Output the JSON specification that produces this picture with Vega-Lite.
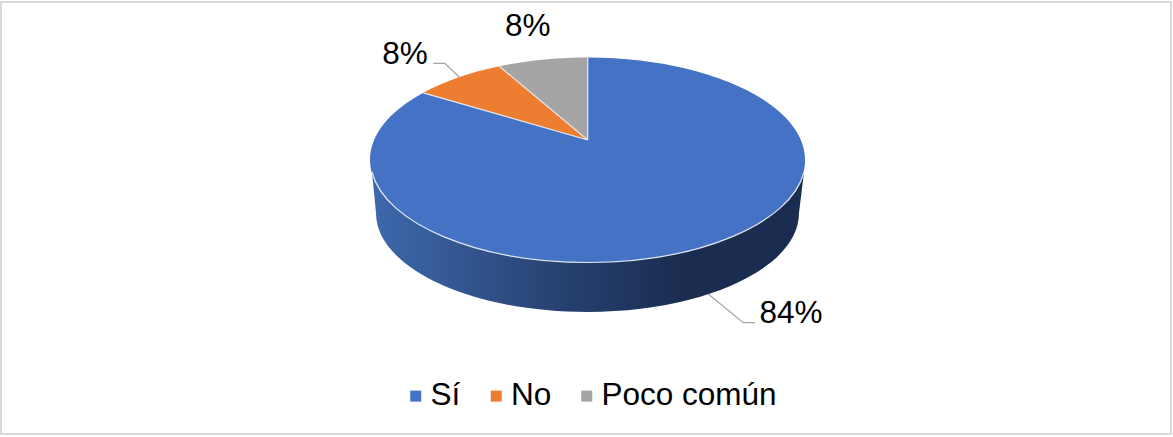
{
"$schema":"https://vega.github.io/schema/vega-lite/v6.json",
"width":1170,"height":432,
"autosize":{"type":"none"},
"padding":{"left":1,"top":2,"right":2,"bottom":3},
"background":"white",
"view":{"stroke":"#d9d9d9","strokeWidth":2,"fill":"white"},
"config":{"font":"Liberation Sans"},
"data":{"values":[
{"categoria":"Sí","valor":84,"etiqueta":"84%"},
{"categoria":"No","valor":8,"etiqueta":"8%"},
{"categoria":"Poco común","valor":8,"etiqueta":"8%"}
]},
"layer":[
{"transform":[{"filter":"datum.categoria==='Sí'"}],
 "mark":{"type":"point","size":4,"opacity":1,"filled":false,"stroke":"#a6a6a6","strokeWidth":1.3,"shape":"M121.3,75.3 L157.3,104.7 L169,104.7"}},
{"transform":[{"filter":"datum.categoria==='No'"}],
 "mark":{"type":"point","size":4,"opacity":1,"filled":false,"stroke":"#a6a6a6","strokeWidth":1.3,"shape":"M-152.7,-154.7 L-141,-154.7 L-126.7,-140.7"}},
{"transform":[{"filter":"datum.categoria==='Sí'"}],
 "mark":{"type":"point","size":4,"opacity":1,"filled":true,"strokeWidth":0,
  "fill":{"gradient":"linear","x1":0,"y1":0,"x2":1,"y2":0,"stops":[{"offset":0,"color":"#3e69ad"},{"offset":0.45,"color":"#26406f"},{"offset":0.72,"color":"#1a2d50"},{"offset":1,"color":"#1a2d50"}]},
  "shape":"M-214,-46 L-210,-5 A211.5 99 0 0 0 213,-5 L218,-46 Z"}},
{"transform":[{"filter":"datum.categoria==='Sí'"}],
 "mark":{"type":"point","size":4,"opacity":1,"filled":true,"strokeWidth":0,"shape":"M1.7,-78 L1.7,-160.5 A217.5 102.5 0 1 1 -162.7,-125.2 Z"},
 "encoding":{"color":{"field":"categoria","type":"nominal",
   "scale":{"domain":["Sí","No","Poco común"],"range":["#4472c4","#ed7d31","#a5a5a5"]},
   "sort":null,
   "legend":{"title":null,"orient":"none","legendX":399,"legendY":378,"direction":"horizontal","columns":3,"symbolType":"square","symbolSize":121,"symbolStrokeWidth":0,"labelFont":"Liberation Sans","labelFontSize":31.5,"labelColor":"#000000","labelOffset":-1,"columnPadding":19.5,"labelLimit":300}}}},
{"transform":[{"filter":"datum.categoria==='No'"}],
 "mark":{"type":"point","size":4,"opacity":1,"filled":true,"strokeWidth":0,"shape":"M1.7,-78 L-162.7,-125.2 A217.5 102.5 0 0 1 -86.7,-151.7 Z"},
 "encoding":{"color":{"field":"categoria","type":"nominal"}}},
{"transform":[{"filter":"datum.categoria==='Poco común'"}],
 "mark":{"type":"point","size":4,"opacity":1,"filled":true,"strokeWidth":0,"shape":"M1.7,-78 L-86.7,-151.7 A217.5 102.5 0 0 1 1.7,-160.5 Z"},
 "encoding":{"color":{"field":"categoria","type":"nominal"}}},
{"transform":[{"filter":"datum.categoria==='Sí'"}],
 "mark":{"type":"point","size":4,"opacity":1,"filled":false,"stroke":"#e4e8f0","strokeWidth":1.2,"shape":"M-162.7,-125.2 L1.7,-78 L-86.7,-151.7 M1.7,-78 L1.7,-160.5 M-214,-46 A217.5 102.5 0 0 0 218,-46"}},
{"transform":[{"filter":"datum.categoria==='Sí'"}],
 "mark":{"type":"text","font":"Liberation Sans","fontSize":31.5,"color":"#000000","align":"center","baseline":"alphabetic","dx":205,"dy":104.7},
 "encoding":{"text":{"field":"etiqueta"}}},
{"transform":[{"filter":"datum.categoria==='No'"}],
 "mark":{"type":"text","font":"Liberation Sans","fontSize":31.5,"color":"#000000","align":"center","baseline":"alphabetic","dx":-181,"dy":-154},
 "encoding":{"text":{"field":"etiqueta"}}},
{"transform":[{"filter":"datum.categoria==='Poco común'"}],
 "mark":{"type":"text","font":"Liberation Sans","fontSize":31.5,"color":"#000000","align":"center","baseline":"alphabetic","dx":-58.2,"dy":-182},
 "encoding":{"text":{"field":"etiqueta"}}}
]
}
